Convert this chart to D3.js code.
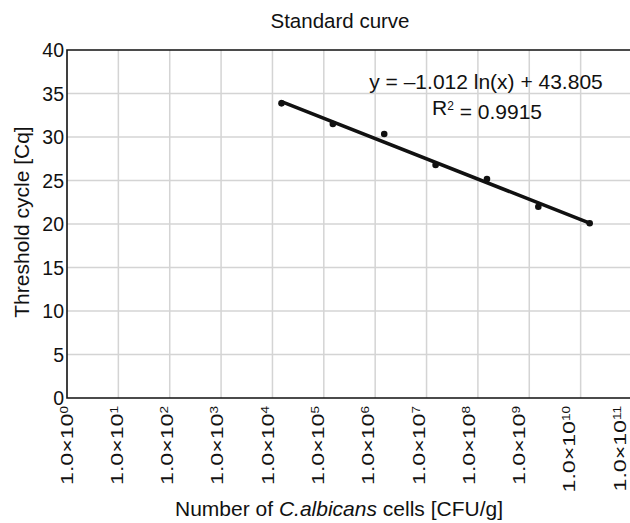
<!DOCTYPE html>
<html>
<head>
<meta charset="utf-8">
<script src="https://cdn.jsdelivr.net/npm/d3@7"></script>
<style>
  html, body { margin: 0; padding: 0; background: #fff; }
  svg { display: block; font-family: "Liberation Sans", Arial, Helvetica, sans-serif; }
</style>
</head>
<body>
<svg id="chart" width="630" height="523"></svg>
<script>
// ---- data ----
const cfuPerGram = [1.5e4, 1.5e5, 1.5e6, 1.5e7, 1.5e8, 1.5e9, 1.5e10];
const thresholdCq = [33.87, 31.49, 30.34, 26.78, 25.17, 21.99, 20.08];
const xTickExponents = [0, 1, 2, 3, 4, 5, 6, 7, 8, 9, 10, 11];
const yTicks = [0, 5, 10, 15, 20, 25, 30, 35, 40];
const trendSlope = -1.012;
const trendIntercept = 43.805;
const equationText = "y = \u20131.012 ln(x) + 43.805";
const r2Value = "0.9915";
const titleText = "Standard curve";
const yTitle = "Threshold cycle [Cq]";

// ---- layout ----
const svg = d3.select("#chart");
const mLeft = 67, mRight = 632, mTop = 50, mBottom = 398;
const x = d3.scaleLog().domain([1, 1e11]).range([mLeft, mRight]);
const y = d3.scaleLinear().domain([0, 40]).range([mBottom, mTop]);
// tick-label placement scale (labels sit slightly left of the gridlines, drifting to the right edge)
const xLab = d3.scaleLinear().domain([0, 11]).range([66.5, 619.5]);
const ink = "#111";

// gridlines
const grid = svg.append("g");
grid.selectAll("line.v").data(xTickExponents.filter(e => e > 0)).join("line")
  .attr("x1", e => x(Math.pow(10, e))).attr("x2", e => x(Math.pow(10, e)))
  .attr("y1", mTop).attr("y2", mBottom)
  .attr("stroke", "#d4d4d4").attr("stroke-width", 1.5);
grid.selectAll("line.h").data(yTicks.filter(t => t > 0 && t < 40)).join("line")
  .attr("x1", mLeft).attr("x2", 630)
  .attr("y1", d => y(d)).attr("y2", d => y(d))
  .attr("stroke", "#d4d4d4").attr("stroke-width", 1.5);

// frame (left, top, bottom)
svg.append("path")
  .attr("d", `M630,${mTop}H${mLeft}V${mBottom}H630`)
  .attr("fill", "none").attr("stroke", ink).attr("stroke-width", 1.6);

// y tick labels
svg.append("g").selectAll("text").data(yTicks).join("text")
  .attr("x", mLeft - 3).attr("y", d => y(d)).attr("dy", "0.36em")
  .attr("text-anchor", "end").attr("font-size", 19.5).attr("fill", ink)
  .text(d => d);

// x tick labels (rotated, elongated along reading direction)
const xl = svg.append("g").selectAll("text").data(xTickExponents).join("text")
  .attr("transform", e => `translate(${xLab(e)},${mBottom + 8}) rotate(-90) scale(1.36,1)`)
  .attr("text-anchor", "end").attr("dy", "0.36em")
  .attr("font-size", 17).attr("fill", ink);
xl.append("tspan").text("1.0\u00d710");
xl.append("tspan").attr("dy", "-0.5em").attr("font-size", 10).text(e => e);

// trendline
const xr = d3.extent(cfuPerGram);
svg.append("line")
  .attr("x1", x(xr[0])).attr("y1", y(trendSlope * Math.log(xr[0]) + trendIntercept))
  .attr("x2", x(xr[1])).attr("y2", y(trendSlope * Math.log(xr[1]) + trendIntercept))
  .attr("stroke", ink).attr("stroke-width", 3.5).attr("stroke-linecap", "round");

// points
svg.append("g").selectAll("circle").data(cfuPerGram).join("circle")
  .attr("cx", d => x(d)).attr("cy", (d, i) => y(thresholdCq[i]))
  .attr("r", 3.3).attr("fill", ink);

// title
svg.append("text").attr("x", 340).attr("y", 28).attr("text-anchor", "middle")
  .attr("font-size", 20.5).attr("fill", ink).text(titleText);

// equation
svg.append("text").attr("x", 486).attr("y", 89).attr("text-anchor", "middle")
  .attr("font-size", 21).attr("fill", ink).text(equationText);
const r2 = svg.append("text").attr("x", 487).attr("y", 115).attr("text-anchor", "middle")
  .attr("font-size", 21).attr("fill", ink);
r2.append("tspan").text("R");
r2.append("tspan").attr("dy", "-0.4em").attr("font-size", 12).text("2");
r2.append("tspan").attr("dy", "0.4em").text(" = " + r2Value);

// y axis title
svg.append("text").attr("transform", `translate(29,222) rotate(-90)`)
  .attr("text-anchor", "middle").attr("font-size", 21).attr("fill", ink).text(yTitle);

// x axis title
const xt = svg.append("text").attr("x", 339).attr("y", 516).attr("text-anchor", "middle")
  .attr("font-size", 21).attr("fill", ink);
xt.append("tspan").text("Number of ");
xt.append("tspan").attr("font-style", "italic").text("C.albicans");
xt.append("tspan").text(" cells [CFU/g]");
</script>
</body>
</html>
